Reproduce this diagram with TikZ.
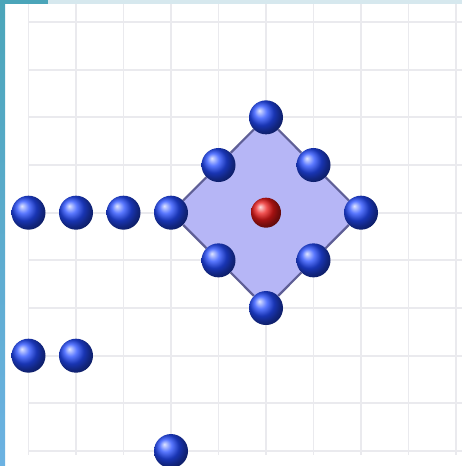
\documentclass[tikz,border=0pt]{standalone}
\usetikzlibrary{shadings}
\definecolor{gridc}{RGB}{234,234,238}
\definecolor{ballblue}{RGB}{35,75,255}
\definecolor{ballred}{RGB}{235,25,25}
\definecolor{diafill}{RGB}{182,182,246}
\definecolor{diaedge}{RGB}{95,95,150}
\definecolor{tealA}{RGB}{75,165,185}
\definecolor{tealB}{RGB}{108,178,226}
\definecolor{paleTop}{RGB}{214,232,238}
\tikzset{
  gridline/.style={draw=gridc, line width=1.8pt},
  blueball/.style={circle, minimum size=34pt, inner sep=0pt, shading=ball, ball color=ballblue},
  redball/.style={circle, minimum size=30pt, inner sep=0pt, shading=ball, ball color=ballred},
  diaedge/.style={draw=diaedge, line width=2.2pt},
}
\begin{document}
\begin{tikzpicture}[x=1pt,y=-1pt]
\useasboundingbox (0,0) rectangle (462,466);
\fill[white] (0,0) rectangle (462,466);
% grid
\foreach \k in {0,...,9} {
  \draw[gridline] ({28.5+47.5*\k},4) -- ({28.5+47.5*\k},455);
  \draw[gridline] (28.5,{22+47.67*\k}) -- (462,{22+47.67*\k});
}
% border strips
\shade[top color=tealA, bottom color=tealB] (0,0) rectangle (5,466);
\fill[tealA] (0,0) rectangle (48,4);
\fill[paleTop] (48,0) rectangle (462,4);
% grid positions
\foreach \c in {0,...,9} {
  \foreach \r in {0,...,9} {
    \coordinate (g\c-\r) at ({28.5+47.5*\c},{22+47.67*\r});
  }
}
% diamond
\fill[diafill] (g5-2) -- (g7-4) -- (g5-6) -- (g3-4) -- cycle;
% balls
\node[blueball] (a1) at (g0-4) {};
\node[blueball] (a2) at (g1-4) {};
\node[blueball] (a3) at (g2-4) {};
\node[blueball] (dl) at (g3-4) {};
\node[blueball] (dt) at (g5-2) {};
\node[blueball] (dr) at (g7-4) {};
\node[blueball] (db) at (g5-6) {};
\node[blueball] (m1) at (g4-3) {};
\node[blueball] (m2) at (g6-3) {};
\node[blueball] (m3) at (g6-5) {};
\node[blueball] (m4) at (g4-5) {};
\node[redball] (c) at (g5-4) {};
\node[blueball] (b1) at (g0-7) {};
\node[blueball] (b2) at (g1-7) {};
\node[blueball] (e1) at (g3-9) {};
% diamond edges between balls
\draw[diaedge] (dl) -- (m1);
\draw[diaedge] (m1) -- (dt);
\draw[diaedge] (dt) -- (m2);
\draw[diaedge] (m2) -- (dr);
\draw[diaedge] (dr) -- (m3);
\draw[diaedge] (m3) -- (db);
\draw[diaedge] (db) -- (m4);
\draw[diaedge] (m4) -- (dl);
\end{tikzpicture}
\end{document}
